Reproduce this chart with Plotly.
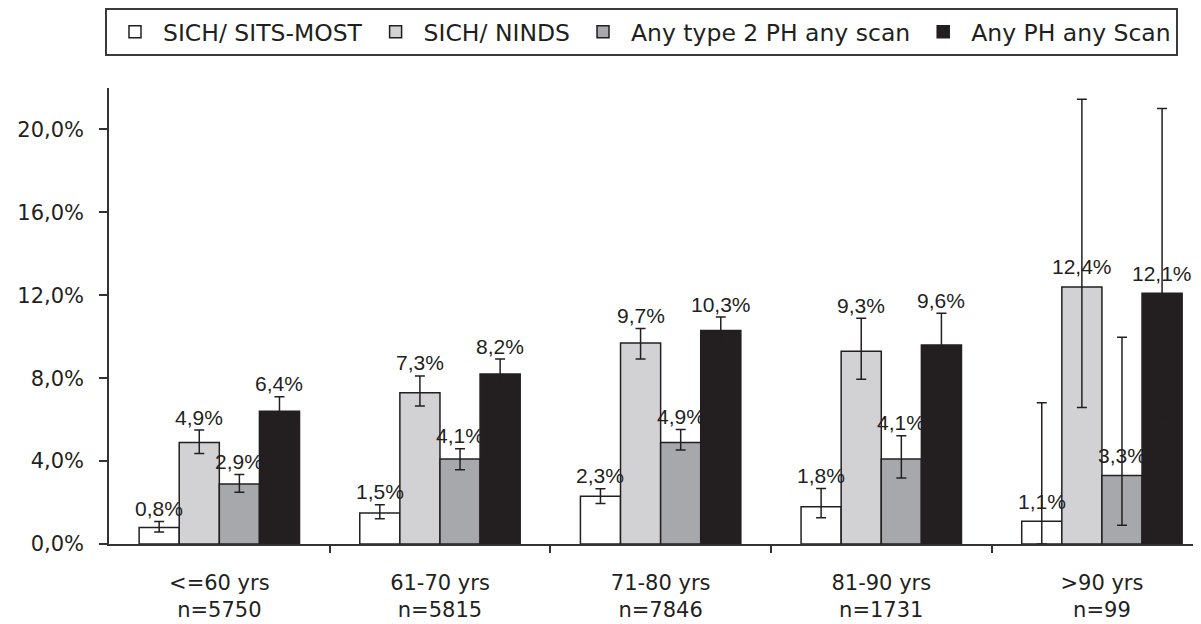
import plotly.graph_objects as go

# ---- data ----
categories = ["<=60 yrs", "61-70 yrs", "71-80 yrs", "81-90 yrs", ">90 yrs"]
sample_sizes = ["n=5750", "n=5815", "n=7846", "n=1731", "n=99"]

series_names = ["SICH/ SITS-MOST", "SICH/ NINDS", "Any type 2 PH any scan", "Any PH any Scan"]

sich_sits = [0.8, 1.5, 2.3, 1.8, 1.1]
sich_sits_lo = [0.58, 1.22, 1.95, 1.27, 0.0]
sich_sits_hi = [1.08, 1.89, 2.66, 2.68, 6.82]

sich_ninds = [4.9, 7.3, 9.7, 9.3, 12.4]
sich_ninds_lo = [4.37, 6.66, 8.92, 7.95, 6.58]
sich_ninds_hi = [5.50, 8.11, 10.40, 10.89, 21.46]

ph2_any = [2.9, 4.1, 4.9, 4.1, 3.3]
ph2_any_lo = [2.50, 3.58, 4.53, 3.19, 0.90]
ph2_any_hi = [3.35, 4.60, 5.52, 5.22, 9.97]

ph_any = [6.4, 8.2, 10.3, 9.6, 12.1]
ph_any_lo = [5.70, 7.50, 9.65, 8.10, 6.10]
ph_any_hi = [7.11, 8.92, 10.95, 11.13, 21.01]

y_ticks = [0, 4, 8, 12, 16, 20]

# ---- style ----
fills = ["#ffffff", "#d2d2d5", "#a6a8ab", "#231f20"]
ink = "#231f20"
bar_gap = 0.273
n_series = 4
bar_w = (1 - bar_gap) / n_series

values = [sich_sits, sich_ninds, ph2_any, ph_any]
lows = [sich_sits_lo, sich_ninds_lo, ph2_any_lo, ph_any_lo]
highs = [sich_sits_hi, sich_ninds_hi, ph2_any_hi, ph_any_hi]

xpos = list(range(len(categories)))


def pct(v):
    return ("%.1f%%" % v).replace(".", ",")


fig = go.Figure()
for j, name in enumerate(series_names):
    v, lo, hi = values[j], lows[j], highs[j]
    fig.add_trace(go.Bar(
        x=xpos, y=v, name=name,
        marker=dict(color=fills[j], line=dict(color=ink, width=1.5)),
        error_y=dict(type="data", symmetric=False,
                     array=[h - a for h, a in zip(hi, v)],
                     arrayminus=[a - l for a, l in zip(v, lo)],
                     color=ink, thickness=1.5, width=5),
    ))

# value labels
annotations = []
for j in range(n_series):
    for i, x in enumerate(xpos):
        v, hi = values[j][i], highs[j][i]
        if hi - v < 3:
            anchor, shift = hi, 13
        else:
            anchor, shift = v, 20
        annotations.append(dict(
            x=x + (j - (n_series - 1) / 2) * bar_w, y=anchor, xref="x", yref="y",
            text=pct(v), showarrow=False,
            yanchor="middle", xanchor="center", yshift=shift,
            font=dict(family="Liberation Sans, Arial", size=21, color=ink),
        ))

ticktext = [c.replace("<", "&lt;").replace(">", "&gt;") + "<br>" + n
            for c, n in zip(categories, sample_sizes)]

fig.update_layout(
    width=1193, height=616,
    margin=dict(l=101, r=0, t=80, b=80, pad=0),
    paper_bgcolor="white", plot_bgcolor="white",
    barmode="group", bargap=bar_gap, bargroupgap=0,
    font=dict(family="DejaVu Sans", size=21, color=ink),
    showlegend=True,
    legend=dict(orientation="h", xref="container", yref="container",
                x=0.0813, xanchor="left", y=1.0, yanchor="top",
                bordercolor="#3a3a3a", borderwidth=2, itemwidth=46,
                font=dict(family="DejaVu Sans", size=23.5, color=ink),
                itemclick=False, traceorder="normal"),
    annotations=annotations,
    xaxis=dict(range=[-0.5, 4.449], tickmode="array", tickvals=xpos, ticktext=ticktext,
               showline=True, linecolor="#333333", linewidth=1.5,
               ticks="outside", ticklen=0, showgrid=False, zeroline=False,
               ticklabelstandoff=19,
               minor=dict(tickmode="array", tickvals=[x + 0.5 for x in xpos[:-1]],
                          ticks="outside", ticklen=7, tickwidth=1.5, tickcolor="#333333",
                          showgrid=False),
               tickfont=dict(family="DejaVu Sans", size=21, color=ink)),
    yaxis=dict(range=[0, 22], tickmode="array", tickvals=y_ticks,
               ticktext=[pct(t) for t in y_ticks],
               showline=True, linecolor="#333333", linewidth=1.5,
               ticks="outside", ticklen=8, tickwidth=1.5, tickcolor="#333333",
               showgrid=False, zeroline=False, ticklabelstandoff=11,
               tickfont=dict(family="DejaVu Sans", size=21, color=ink)),
)

fig.write_html("out.html")
